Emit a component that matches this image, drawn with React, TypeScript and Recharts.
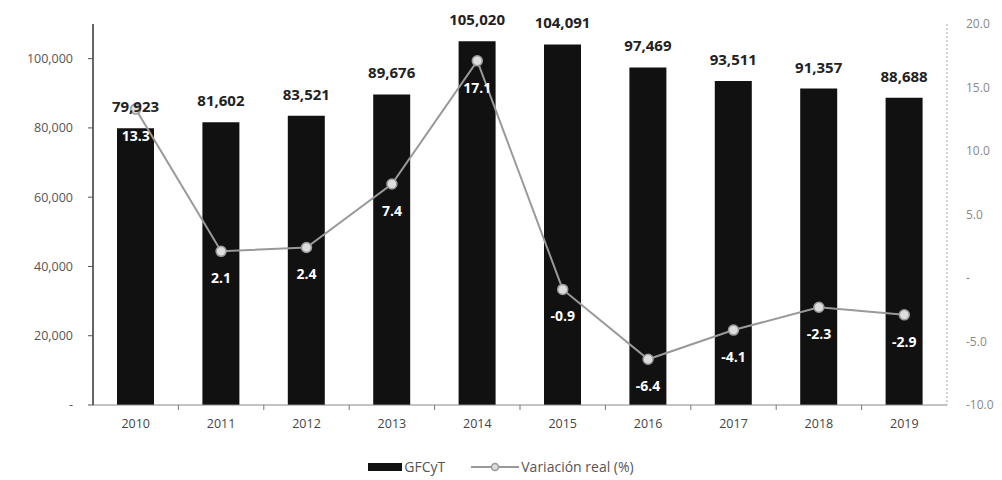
import {
  ComposedChart, Bar, Line, XAxis, YAxis, Legend, LabelList
} from "recharts";

const years = ["2010", "2011", "2012", "2013", "2014", "2015", "2016", "2017", "2018", "2019"];
const gfcyt = [79923, 81602, 83521, 89676, 105020, 104091, 97469, 93511, 91357, 88688];
const variacion = [13.3, 2.1, 2.4, 7.4, 17.1, -0.9, -6.4, -4.1, -2.3, -2.9];
const leftTicks = [0, 20000, 40000, 60000, 80000, 100000];
const rightTicks = [-10, -5, 0, 5, 10, 15, 20];

const data = years.map((y, i) => ({ year: y, gfcyt: gfcyt[i], variacion: variacion[i] }));

const font = "'Open Sans', sans-serif";

const fmtLeft = (v: number) => (v === 0 ? "-" : v.toLocaleString("en-US"));
const fmtRight = (v: number) => (v === 0 ? "-" : v.toFixed(1));

const XTick = (props: any) => {
  const { x, y, payload, index } = props;
  const half = 42.7;
  return (
    <g>
      {index < years.length - 1 && (
        <line x1={x + half} y1={y - 8} x2={x + half} y2={y - 3} stroke="#777" strokeWidth={1} />
      )}
      <text x={x} y={y} dy={15} textAnchor="middle" fill="#444" fontSize={12.5} fontFamily={font}>
        {payload.value}
      </text>
    </g>
  );
};

const LineLabel = (props: any) => {
  const { x, y, value } = props;
  return (
    <text x={x} y={y + 28} textAnchor="middle" dominantBaseline="middle"
      fill="#fff" fontSize={14} fontWeight={700} fontFamily={font}>
      {value}
    </text>
  );
};

const BarLabel = (props: any) => {
  const { x, y, width, value } = props;
  return (
    <text x={x + width / 2} y={y - 20} textAnchor="middle" dominantBaseline="middle"
      fill="#222" fontSize={15} fontWeight={700} fontFamily={font}>
      {Number(value).toLocaleString("en-US")}
    </text>
  );
};

const LegendContent = () => (
  <div style={{ display: "flex", justifyContent: "center", alignItems: "center",
    fontFamily: font, fontSize: 14, color: "#555" }}>
    <span style={{ display: "inline-block", width: 34, height: 8, background: "#111", marginRight: 2 }} />
    <span style={{ marginRight: 26 }}>GFCyT</span>
    <svg width={48} height={10} style={{ marginRight: 2 }}>
      <line x1={0} y1={5} x2={48} y2={5} stroke="#999" strokeWidth={2} />
      <circle cx={24} cy={5} r={3.5} fill="#ddd" stroke="#999" strokeWidth={1.5} />
    </svg>
    <span>Variación real (%)</span>
  </div>
);

function App() {
  return (
    <div style={{ position: "absolute", left: 0, top: 0 }}>
      <ComposedChart width={1002} height={480} data={data}
        margin={{ top: 24, right: 0, left: 0, bottom: 26 }} barCategoryGap="28%">
        <XAxis dataKey="year" tickLine={false} axisLine={{ stroke: "#888" }}
          tick={<XTick />} height={30} />
        <YAxis yAxisId="left" width={93} domain={[0, 110000]} ticks={leftTicks}
          tickFormatter={fmtLeft} axisLine={{ stroke: "#333", strokeWidth: 1.5 }}
          tickLine={{ stroke: "#555" }} tickSize={5} tickMargin={15}
          tick={{ fill: "#555", fontSize: 12.5, fontFamily: font }} />
        <YAxis yAxisId="right" orientation="right" width={55} domain={[-10, 20]} ticks={rightTicks}
          tickFormatter={fmtRight} axisLine={{ stroke: "#aaa", strokeDasharray: "2 2" }}
          tickLine={false} tickSize={6} tickMargin={13}
          tick={{ fill: "#888", fontSize: 12, fontFamily: font }} />
        <Legend verticalAlign="bottom" content={<LegendContent />} wrapperStyle={{ bottom: 4 }} />
        <Bar yAxisId="left" dataKey="gfcyt" name="GFCyT" fill="#111" barSize={37}
          isAnimationActive={false}>
          <LabelList dataKey="gfcyt" content={<BarLabel />} />
        </Bar>
        <Line yAxisId="right" dataKey="variacion" name="Variación real (%)" type="linear"
          stroke="#999" strokeWidth={2}
          dot={{ r: 5, fill: "#ddd", stroke: "#999", strokeWidth: 1.5 }}
          isAnimationActive={false}>
          <LabelList dataKey="variacion" content={<LineLabel />} />
        </Line>
      </ComposedChart>
    </div>
  );
}

export default App;
